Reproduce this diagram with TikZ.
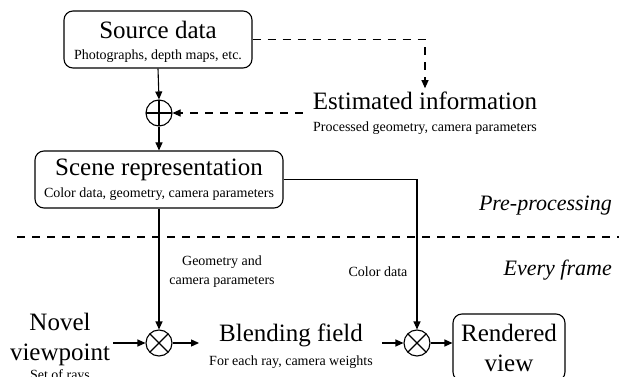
\documentclass[tikz,border=0pt]{standalone}
\usepackage{fontspec}
\setmainfont{Liberation Serif}
\usetikzlibrary{arrows.meta}

\newcommand\titlefont{\fontsize{25}{30}\selectfont}
\newcommand\notefont{\fontsize{14}{19}\selectfont}
\newcommand\phasefont{\fontsize{22}{26}\selectfont\itshape}

\tikzset{
  x=1pt, y=-1pt,
  wire/.style={line width=1.1pt},
  conn/.style={wire, -{Triangle[length=8pt,width=7pt]}},
  dashline/.style={dash pattern=on 8pt off 7pt},
  box/.style={draw, line width=1.1pt, rounded corners=9pt, inner sep=0pt},
  txt/.style={align=center, inner sep=0pt},
  opnode/.style={draw, circle, line width=1.1pt, minimum size=26pt, inner sep=0pt},
  plusmark/.style={path picture={\draw[line width=1.1pt]
      (path picture bounding box.north) -- (path picture bounding box.south)
      (path picture bounding box.west) -- (path picture bounding box.east);}},
  timesmark/.style={path picture={\draw[line width=1.1pt]
      (path picture bounding box.north west) -- (path picture bounding box.south east)
      (path picture bounding box.north east) -- (path picture bounding box.south west);}},
}

\begin{document}
\begin{tikzpicture}
\clip (0,0) rectangle (619,377);

% boxes
\node[box, minimum width=188pt, minimum height=57pt] (src) at (158,39.5) {};
\node[txt, anchor=base, font=\titlefont] (srct) at (158,38.5) {Source data};
\node[txt, anchor=base, font=\notefont] (srcs) at (158,60) {Photographs, depth maps, etc.};

\node[box, minimum width=248pt, minimum height=57pt] (scene) at (159,179.5) {};
\node[txt, anchor=base, font=\titlefont] (scenet) at (159,176) {Scene representation};
\node[txt, anchor=base, font=\notefont] (scenes) at (159,198) {Color data, geometry, camera parameters};

% estimated information
\node[txt, anchor=base, font=\titlefont] (est) at (425,110) {Estimated information};
\node[txt, anchor=base, font=\notefont] (ests) at (425,132) {Processed geometry, camera parameters};

% combining operators
\node[opnode, plusmark] (op) at (159,113) {};
\node[opnode, timesmark] (ox1) at (159,343) {};
\node[opnode, timesmark] (ox2) at (417,343) {};

% per-frame row
\node[txt, font=\titlefont] (vp) at (60,339) {Novel\\viewpoint};
\node[txt, anchor=base, font=\notefont] (vps) at (60,379.5) {Set of rays};
\node[txt, anchor=base, font=\titlefont] (blend) at (291,341) {Blending field};
\node[txt, anchor=base, font=\notefont] (blends) at (291,365) {For each ray, camera weights};
\node[box, minimum width=112pt, minimum height=67pt, align=center, font=\titlefont] (rv) at (509,347.5) {Rendered\\view};

% phase labels
\draw[wire, dashline] (17,237) -- (619,237);
\node[txt, anchor=base east, font=\phasefont] (pre) at (612,211) {Pre-processing};
\node[txt, anchor=base east, font=\phasefont] (every) at (612,275) {Every frame};

% edge labels
\node[txt, font=\notefont] (geo) at (222,272) {Geometry and\\camera parameters};
\node[txt, font=\notefont] (col) at (378,272) {Color data};

% connectors
\draw[conn] (src.south) -- (op.north);
\draw[conn] (op.south) -- (scene.north);
\draw[conn, dashline] (src.east) -| ([yshift=4pt]est.north);
\draw[conn, dashline] ([xshift=-10pt]est.west |- op.east) -- (op.east);
\draw[conn] (scene.south) -- (ox1.north);
\draw[conn] (scene.east) -| (ox2.north);
\draw[conn] ([xshift=3pt]vp.east |- ox1.west) -- (ox1.west);
\draw[conn] (ox1.east) -- ([xshift=-10pt]blends.west |- ox1.east);
\draw[conn] ([xshift=9pt]blends.east |- ox2.west) -- (ox2.west);
\draw[conn] (ox2.east) -- (ox2.east -| rv.west);
\end{tikzpicture}
\end{document}
